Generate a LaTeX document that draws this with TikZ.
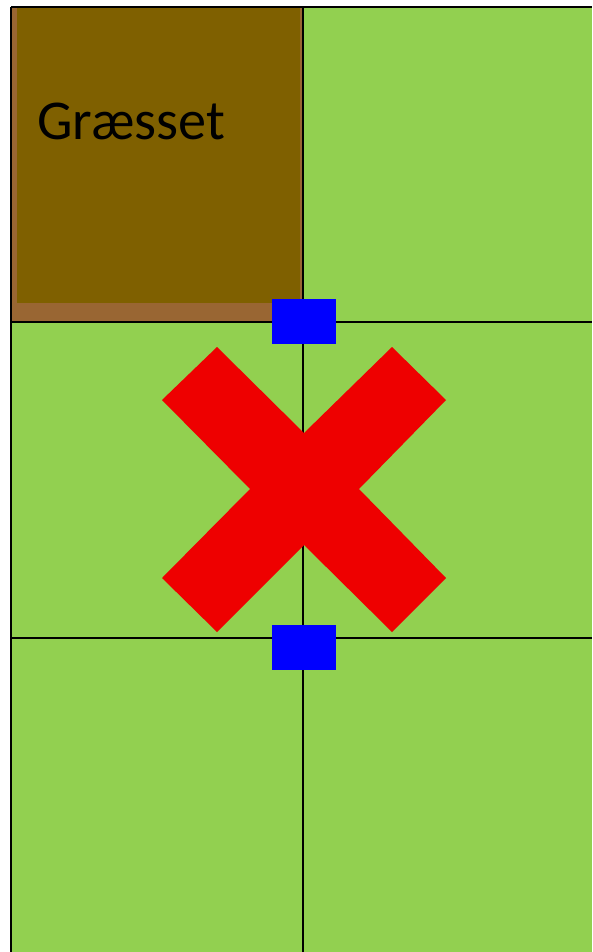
\documentclass[tikz,border=0pt]{standalone}
\usepackage{fontspec}
\setmainfont{Carlito}
\usepackage{xcolor}
\usepackage{tikz}

\definecolor{grass}{HTML}{92D050}
\definecolor{soil}{HTML}{996633}
\definecolor{mud}{HTML}{7F6000}
\definecolor{stopred}{HTML}{EE0000}

\begin{document}
\begin{tikzpicture}[
    x=0.25mm, y=-0.25mm,
    gridline/.style={black, line width=0.65mm},
    gate/.style={fill=blue, draw=none},
    cross/.style={fill=stopred, draw=none},
    label/.style={anchor=base west, inner sep=0pt, font=\fontsize{40}{48}\selectfont}
]

\useasboundingbox (0,0) rectangle (592,952);

% Field
\fill[grass] (11,7) rectangle (592,952);

% Cut cell
\fill[soil] (12,8) rectangle (303,322);
\fill[mud] (17,8) rectangle (300,303);
\node[label] (cut) at (37,139) {Græsset};

% Grid
\draw[gridline] (11,7) -- (592,7);
\draw[gridline] (11,322) -- (592,322);
\draw[gridline] (11,638) -- (592,638);
\draw[gridline] (11,7) -- (11,952);
\draw[gridline] (303,7) -- (303,952);

% Blocked passage
\fill[cross] (217,347) -- (304,433) -- (392,347) -- (446,400) -- (359,489)
    -- (446,578) -- (392,632) -- (304,545) -- (217,632) -- (162,578)
    -- (250,489) -- (162,400) -- cycle;

% Gates
\fill[gate] (272,299) rectangle (336,344);
\fill[gate] (272,625) rectangle (336,670);

\end{tikzpicture}
\end{document}
